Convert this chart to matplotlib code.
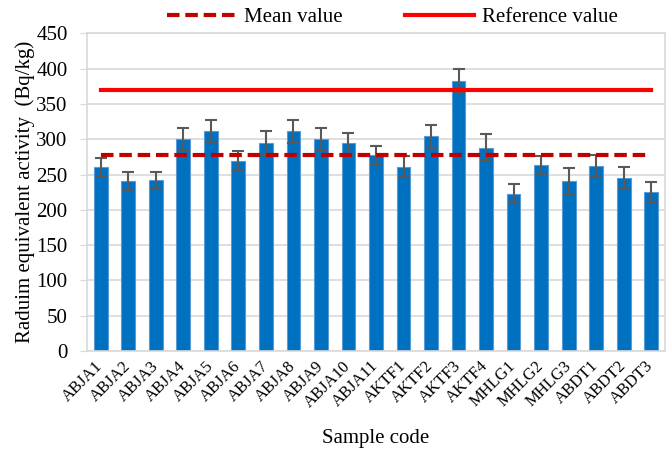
import numpy as np
import matplotlib.pyplot as plt
import matplotlib.transforms as mtransforms
from matplotlib.lines import Line2D

samples = ["ABJA1", "ABJA2", "ABJA3", "ABJA4", "ABJA5", "ABJA6", "ABJA7",
           "ABJA8", "ABJA9", "ABJA10", "ABJA11", "AKTF1", "AKTF2", "AKTF3",
           "AKTF4", "MHLG1", "MHLG2", "MHLG3", "ABDT1", "ABDT2", "ABDT3"]
ra_eq = [260, 241, 242, 300, 311, 269, 295, 311, 300, 294, 277,
         261, 304, 383, 288, 223, 263, 241, 262, 245, 225]
ra_err = [14, 13, 12, 16, 16, 14, 16, 16, 16, 15, 14,
          15, 16, 17, 19, 13, 13, 18, 16, 15, 14]
mean_value = 277
reference_value = 370

plt.rcParams['font.family'] = ['Liberation Serif', 'DejaVu Serif']

fig = plt.figure(figsize=(6.69, 4.49), dpi=100)
ax = fig.add_axes([0.130, 0.218, 0.864, 0.708])

x = np.arange(len(samples))
ax.bar(x, ra_eq, width=0.5, color="#0070C0", edgecolor="#5B9BD5", linewidth=0.8, zorder=2)
ax.errorbar(x, ra_eq, yerr=ra_err, fmt="none", ecolor="#595959", elinewidth=1.5,
            capsize=4.3, capthick=1.5, zorder=3)

ax.plot([x[0], x[-1]], [mean_value, mean_value], color="#C00000", linestyle=(0, (3, 1.4)),
        linewidth=3, zorder=4)
ax.plot([x[0], x[-1]], [reference_value, reference_value], color="#FF0000",
        linewidth=3, zorder=4)

ax.set_xlim(-0.5, len(samples) - 0.5)
ax.set_ylim(0, 450)
ax.set_yticks(range(0, 451, 50))
ax.set_xticks(x)
ax.set_xticklabels(samples, rotation=45, ha="right", va="center",
                   rotation_mode="anchor", fontsize=12)
shift = mtransforms.ScaledTranslation(5 / 100, 0, fig.dpi_scale_trans)
for lab in ax.get_xticklabels():
    lab.set_transform(lab.get_transform() + shift)
ax.tick_params(axis="y", labelsize=15, length=5, color="#D9D9D9", pad=9)
ax.tick_params(axis="x", length=0, pad=9)
ax.grid(axis="y", color="#D9D9D9", linewidth=1.2, zorder=0)
ax.set_axisbelow(True)
for side in ["left", "right", "bottom", "top"]:
    ax.spines[side].set_color("#D9D9D9")
    ax.spines[side].set_linewidth(1.2)

ax.set_ylabel("Raduim equivalent activity  (Bq/kg)", fontsize=15)
ax.yaxis.set_label_coords(-0.09, 0.5)
ax.set_xlabel("Sample code", fontsize=15)
ax.xaxis.set_label_coords(0.5, -0.245)

handles = [Line2D([], [], color="#C00000", linestyle=(0, (3, 1.4)), linewidth=3),
           Line2D([], [], color="#FF0000", linewidth=3)]
fig.legend(handles, ["Mean value", "Reference value"], loc="center",
           bbox_to_anchor=(0.587, 0.962), ncol=2, frameon=False, fontsize=15,
           handlelength=3.3, columnspacing=3.0, handletextpad=0.4)

fig.savefig("out.png", dpi=100)
